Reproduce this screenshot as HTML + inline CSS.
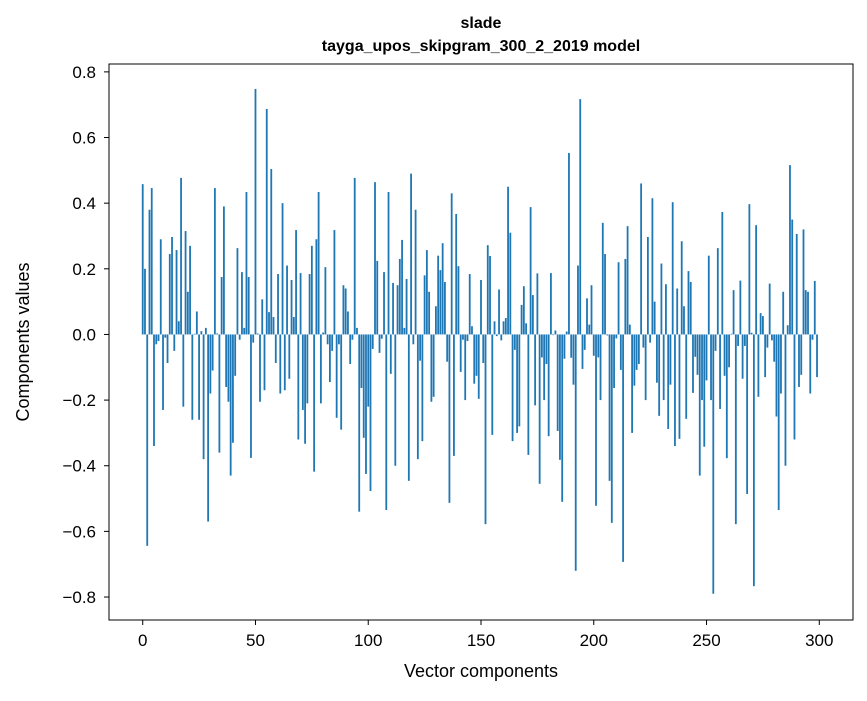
<!DOCTYPE html>
<html><head><meta charset="utf-8"><style>
body{margin:0;background:#fff;font-family:"Liberation Sans",sans-serif;}
svg text{font-family:"Liberation Sans","DejaVu Sans",sans-serif;}
</style></head><body>
<svg id="chart" width="867" height="696" xmlns="http://www.w3.org/2000/svg">
<rect width="867" height="696" fill="#fff"/>
<text x="481" y="28" text-anchor="middle" font-size="16" font-weight="bold">slade</text>
<text x="481" y="51" text-anchor="middle" font-size="16" font-weight="bold">tayga_upos_skipgram_300_2_2019 model</text>
<g id="bars"></g>
<g id="axes"></g>
<rect x="109" y="64" width="744" height="556" fill="none" stroke="#000" stroke-width="1"/>
<text x="481" y="677" text-anchor="middle" font-size="18">Vector components</text>
<text transform="translate(29,342) rotate(-90)" text-anchor="middle" font-size="18">Components values</text>
</svg>
<script>
const values = [0.458,0.2,-0.644,0.38,0.446,-0.34,-0.03,-0.02,0.29,-0.23,
-0.01,-0.087,0.245,0.297,-0.05,0.257,0.04,0.477,-0.22,0.315,
0.13,0.27,-0.26,0.002,0.07,-0.26,0.01,-0.38,0.02,-0.57,
-0.18,-0.11,0.446,0.003,-0.36,0.175,0.39,-0.16,-0.205,-0.43,
-0.33,-0.126,0.263,-0.016,0.19,0.02,0.434,0.175,-0.376,-0.025,
0.748,0.003,-0.205,0.107,-0.17,0.687,0.068,0.504,0.053,-0.087,
0.184,-0.18,0.4,-0.17,0.21,-0.135,0.166,0.053,0.318,-0.32,
0.187,-0.23,-0.333,-0.21,0.184,0.27,-0.418,0.29,0.434,-0.21,
0.006,0.205,-0.03,-0.145,-0.05,0.318,-0.254,-0.03,-0.29,0.15,
0.14,0.07,-0.09,-0.016,0.477,0.02,-0.54,-0.163,-0.315,-0.425,
-0.22,-0.477,-0.044,0.464,0.224,-0.056,-0.013,0.19,-0.535,0.434,
-0.12,0.157,-0.4,0.15,0.23,0.288,0.02,0.169,-0.446,0.49,
-0.03,0.38,-0.38,-0.08,-0.325,0.18,0.257,0.13,-0.205,-0.19,
0.086,0.24,0.196,0.278,0.16,-0.083,-0.513,0.43,-0.37,0.367,
0.208,-0.114,-0.016,-0.2,-0.02,0.184,0.025,-0.15,-0.126,-0.196,
0.166,-0.087,-0.578,0.272,0.239,-0.306,0.04,-0.005,0.137,-0.018,
0.04,0.05,0.45,0.31,-0.325,-0.047,-0.3,-0.28,0.09,0.147,
0.034,-0.367,0.388,0.12,-0.216,0.186,-0.455,-0.07,-0.2,-0.09,
-0.31,0.187,-0.002,0.012,-0.294,-0.382,-0.51,-0.074,0.009,0.553,
-0.071,-0.153,-0.72,0.21,0.717,-0.105,-0.047,0.11,0.03,0.15,
-0.065,-0.522,-0.07,-0.2,0.34,0.245,-0.003,-0.446,-0.574,-0.163,
-0.012,0.22,-0.108,-0.693,0.23,0.33,0.03,-0.3,-0.156,-0.108,
-0.09,0.46,-0.04,-0.2,0.297,-0.025,0.415,0.1,-0.147,-0.248,
0.216,-0.2,0.153,-0.288,-0.153,0.403,-0.34,0.14,-0.318,0.284,
0.086,-0.257,0.193,0.16,-0.178,-0.068,-0.123,-0.43,-0.2,-0.342,
-0.14,0.24,-0.2,-0.79,-0.05,0.263,-0.227,0.373,-0.126,-0.377,
-0.1,0.002,0.135,-0.578,-0.035,0.164,-0.135,-0.035,-0.486,0.397,
0.005,-0.767,0.333,-0.19,0.065,0.056,-0.13,-0.04,0.155,-0.018,
-0.083,-0.25,-0.535,-0.18,0.13,-0.4,0.028,0.516,0.35,-0.32,
0.306,-0.16,-0.123,0.32,0.135,0.13,-0.18,-0.016,0.163,-0.13];
const xTicks = [0,50,100,150,200,250,300];
const yTicks = [-0.8,-0.6,-0.4,-0.2,0,0.2,0.4,0.6,0.8];

const L=109,R=853,T=64,B=620;
const XMIN=-14.95,XMAX=314.95,YMIN=-0.870,YMAX=0.824;
function xs(v){return L+(v-XMIN)/(XMAX-XMIN)*(R-L);}
function ys(v){return B-(v-YMIN)/(YMAX-YMIN)*(B-T);}
const NS="http://www.w3.org/2000/svg";
const bars=document.getElementById('bars');
const bw=(xs(0.8)-xs(0));
values.forEach((v,i)=>{
  const r=document.createElementNS(NS,'rect');
  const y0=ys(0),y1=ys(v);
  r.setAttribute('x',xs(i)-bw/2);
  r.setAttribute('y',Math.min(y0,y1));
  r.setAttribute('width',bw);
  r.setAttribute('height',Math.max(Math.abs(y1-y0),0.3));
  r.setAttribute('fill','#1f77b4');
  
  
  bars.appendChild(r);
});
const ax=document.getElementById('axes');
function fmt(v){const s=Math.abs(v).toFixed(1);return (v<0?'\u2212':'')+s;}
xTicks.forEach(t=>{
  const x=xs(t);
  const l=document.createElementNS(NS,'line');
  l.setAttribute('x1',x);l.setAttribute('x2',x);l.setAttribute('y1',B);l.setAttribute('y2',B+5);
  l.setAttribute('stroke','#000');
  
  
  ax.appendChild(l);
  const tx=document.createElementNS(NS,'text');
  tx.setAttribute('x',x);tx.setAttribute('y',B+26);tx.setAttribute('text-anchor','middle');tx.setAttribute('font-size','17');
  tx.textContent=t;
  
  
  ax.appendChild(tx);
});
yTicks.forEach(t=>{
  const y=ys(t);
  const l=document.createElementNS(NS,'line');
  l.setAttribute('x1',L-5);l.setAttribute('x2',L);l.setAttribute('y1',y);l.setAttribute('y2',y);
  l.setAttribute('stroke','#000');
  
  
  ax.appendChild(l);
  const tx=document.createElementNS(NS,'text');
  tx.setAttribute('x',L-13);tx.setAttribute('y',y+6);tx.setAttribute('text-anchor','end');tx.setAttribute('font-size','17');
  tx.textContent=fmt(t);
  
  
  ax.appendChild(tx);
});
</script>
</body></html>
